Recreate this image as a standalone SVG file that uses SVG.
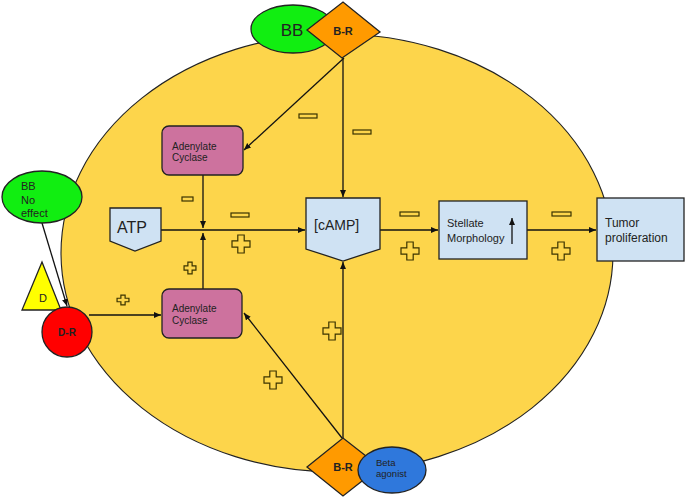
<svg xmlns="http://www.w3.org/2000/svg" xmlns:xlink="http://www.w3.org/1999/xlink" width="685" height="497" viewBox="0 0 685 497">
<style>
text{font-family:"Liberation Sans",Arial,sans-serif;fill:#222}
.node{stroke:#222;stroke-width:1.3}
.ac{fill:#cd729e}
.blue{fill:#cfe2f3}
.conn line{stroke:#111;stroke-width:1.3;fill:none}
.sign{fill:#fdd54b;stroke:#3a3300;stroke-width:1.2}
.b{font-weight:bold}
</style>
<defs>
<marker id="arr" markerUnits="userSpaceOnUse" markerWidth="8" markerHeight="7" refX="7" refY="3" orient="auto">
<path d="M0,0 L7,3 L0,6 z" fill="#111"/>
</marker>
<path id="plus" d="M-3.2,-9 H3.2 V-3.2 H9 V3.2 H3.2 V9 H-3.2 V3.2 H-9 V-3.2 H-3.2 Z" vector-effect="non-scaling-stroke"/>
</defs>
<rect width="685" height="497" fill="#fff"/>
<g id="cell">
<ellipse cx="337" cy="253" rx="276" ry="219" fill="#fdd54b" stroke="#222" stroke-width="1.1"/>
</g>
<g class="conn" id="connectors">
<line x1="343" y1="58" x2="343" y2="197" marker-end="url(#arr)"/>
<line x1="344" y1="58" x2="244" y2="150" marker-end="url(#arr)"/>
<line x1="203" y1="175" x2="203" y2="228" marker-end="url(#arr)"/>
<line x1="161" y1="230" x2="305" y2="230" marker-end="url(#arr)"/>
<line x1="203" y1="289" x2="203" y2="233" marker-end="url(#arr)"/>
<line x1="89" y1="315" x2="161" y2="315" marker-end="url(#arr)"/>
<line x1="42" y1="223" x2="67" y2="306" marker-end="url(#arr)"/>
<line x1="343" y1="438" x2="343" y2="262" marker-end="url(#arr)"/>
<line x1="342" y1="438" x2="244" y2="313" marker-end="url(#arr)"/>
<line x1="380" y1="230" x2="438" y2="230" marker-end="url(#arr)"/>
<line x1="527" y1="230" x2="596" y2="230" marker-end="url(#arr)"/>
</g>
<g id="signs" class="sign">
<rect x="299" y="114" width="18" height="4"/>
<rect x="353" y="130" width="18" height="4"/>
<rect x="182" y="197" width="11" height="4"/>
<rect x="231" y="213" width="18" height="4"/>
<rect x="400" y="212" width="19" height="4"/>
<rect x="552" y="212" width="19" height="4"/>
<use xlink:href="#plus" transform="translate(241,244)"/>
<use xlink:href="#plus" transform="translate(190,268) scale(0.66)"/>
<use xlink:href="#plus" transform="translate(410,251)"/>
<use xlink:href="#plus" transform="translate(561,251)"/>
<use xlink:href="#plus" transform="translate(123,300) scale(0.66,0.55)"/>
<use xlink:href="#plus" transform="translate(332,331)"/>
<use xlink:href="#plus" transform="translate(273,380)"/>
</g>
<g id="bb-top">
<ellipse class="node" cx="293" cy="29" rx="42" ry="24" fill="#11ee11"/>
<text x="292" y="36" font-size="17" text-anchor="middle">BB</text>
</g>
<g id="br-top">
<polygon class="node" points="307,30 343,2 380,32 342,58" fill="#ff9a00"/>
<text class="b" x="343" y="35" font-size="11" text-anchor="middle">B-R</text>
</g>
<g id="ac-top">
<rect class="node ac" x="162" y="126" width="81" height="49" rx="7"/>
<text x="172" y="149.5" font-size="10">Adenylate</text>
<text x="172" y="161" font-size="10">Cyclase</text>
</g>
<g id="atp">
<polygon class="node blue" points="110,208 161,208 161,241 135,251 110,241"/>
<text x="117" y="233" font-size="16">ATP</text>
</g>
<g id="camp">
<polygon class="node blue" points="306,198 380,198 380,249 343,261 306,249"/>
<text x="314" y="230" font-size="14">[cAMP]</text>
</g>
<g id="stellate">
<rect class="node blue" x="439" y="201" width="88" height="58"/>
<text x="447" y="227" font-size="11">Stellate</text>
<text x="447" y="242" font-size="11">Morphology</text>
<line x1="512" y1="244" x2="512" y2="218" stroke="#111" stroke-width="1.3" marker-end="url(#arr)"/>
</g>
<g id="tumor">
<rect class="node blue" x="597" y="198" width="87" height="63"/>
<text x="605" y="227" font-size="12">Tumor</text>
<text x="605" y="242" font-size="12">proliferation</text>
</g>
<g id="bb-noeffect">
<ellipse class="node" cx="42" cy="197" rx="40" ry="26" fill="#11ee11"/>
<text x="21" y="190" font-size="11">BB</text>
<text x="21" y="203.5" font-size="11">No</text>
<text x="21" y="217" font-size="11">effect</text>
</g>
<g id="d">
<polygon class="node" points="42,262 22,310 61,310" fill="#ffff00"/>
<text x="43" y="302" font-size="11" text-anchor="middle">D</text>
</g>
<g id="dr">
<circle class="node" cx="67" cy="332" r="25" fill="#ff0000"/>
<text class="b" x="67" y="336" font-size="10" text-anchor="middle">D-R</text>
</g>
<g id="ac-bottom">
<rect class="node ac" x="162" y="289" width="80" height="49" rx="7"/>
<text x="172" y="311.5" font-size="10">Adenylate</text>
<text x="172" y="323.5" font-size="10">Cyclase</text>
</g>
<g id="br-bottom">
<polygon class="node" points="307,467 343,438 380,467 343,496" fill="#ff9a00"/>
<text class="b" x="343" y="471" font-size="11" text-anchor="middle">B-R</text>
</g>
<g id="beta-agonist">
<ellipse class="node" cx="392" cy="470" rx="34" ry="23" fill="#2f78dc"/>
<text x="376" y="465.5" font-size="9.5">Beta</text>
<text x="376" y="477" font-size="9.5">agonist</text>
</g>
</svg>
